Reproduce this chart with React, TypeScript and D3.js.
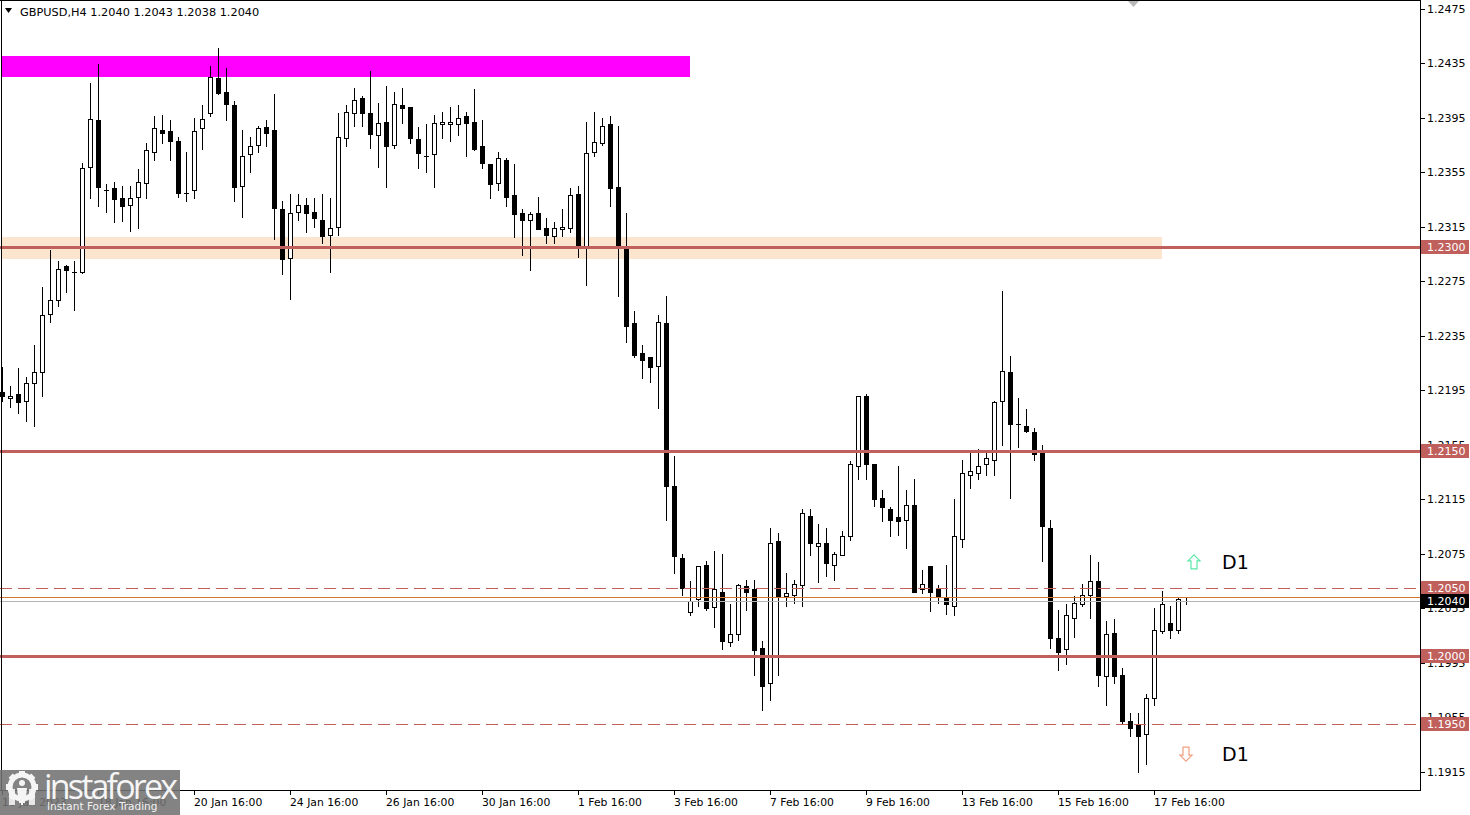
import React from "react";
import * as d3 from "d3";

// ---- Data (GBPUSD H4) ----
const opens = [
  1.2194, 1.2189, 1.2192, 1.2187, 1.2200, 1.2208, 1.2251, 1.2261, 1.2286, 1.2282,
  1.2282, 1.2359, 1.2393, 1.2342, 1.2343, 1.2336, 1.2331, 1.2337, 1.2347, 1.2370,
  1.2386, 1.2385, 1.2378, 1.2340, 1.2342, 1.2387, 1.2398, 1.2424, 1.2414, 1.2404,
  1.2345, 1.2368, 1.2375, 1.2388, 1.2386, 1.2328, 1.2292, 1.2326, 1.2331, 1.2326,
  1.2320, 1.2309, 1.2315, 1.2380, 1.2398, 1.2409, 1.2398, 1.2382, 1.2392, 1.2375,
  1.2404, 1.2403, 1.2379, 1.2367, 1.2368, 1.2390, 1.2390, 1.2390, 1.2396, 1.2392,
  1.2374, 1.2361, 1.2347, 1.2364, 1.2338, 1.2325, 1.2320, 1.2325, 1.2314, 1.2308,
  1.2313, 1.2314, 1.2339, 1.2301, 1.2370, 1.2376, 1.2390, 1.2344, 1.2299, 1.2244,
  1.2222, 1.2219, 1.2213, 1.2244, 1.2125, 1.2072, 1.2032, 1.2042, 1.2067, 1.2036,
  1.2047, 1.2010, 1.2016, 1.2051, 1.2049, 1.2006, 1.1980, 1.2084, 1.2044, 1.2045,
  1.2052, 1.2103, 1.2081, 1.2083, 1.2067, 1.2074, 1.2088, 1.2139, 1.2191, 1.2141,
  1.2116, 1.2108, 1.2102, 1.2100, 1.2111, 1.2049, 1.2066, 1.2049, 1.2043, 1.2037,
  1.2086, 1.2133, 1.2134, 1.2141, 1.2144, 1.2187, 1.2208, 1.2170, 1.2169, 1.2164,
  1.2149, 1.2094, 1.2013, 1.2005, 1.2028, 1.2038, 1.2045, 1.2055, 1.1985, 1.2017,
  1.1986, 1.1952, 1.1949, 1.1943, 1.1969, 1.2018, 1.2024, 1.2019, 1.2040,
];
const highs = [
  1.2212, 1.2198, 1.2211, 1.2205, 1.2228, 1.2271, 1.2298, 1.2290, 1.2287, 1.2290,
  1.2362, 1.2420, 1.2434, 1.2346, 1.2348, 1.2345, 1.2345, 1.2357, 1.2376, 1.2396,
  1.2397, 1.2393, 1.2381, 1.2370, 1.2395, 1.2404, 1.2433, 1.2446, 1.2431, 1.2407,
  1.2386, 1.2381, 1.2389, 1.2393, 1.2412, 1.2334, 1.2339, 1.2339, 1.2336, 1.2336,
  1.2339, 1.2336, 1.2398, 1.2404, 1.2417, 1.2411, 1.2429, 1.2406, 1.2418, 1.2414,
  1.2417, 1.2403, 1.2388, 1.2390, 1.2397, 1.2399, 1.2403, 1.2404, 1.2399, 1.2416,
  1.2393, 1.2361, 1.2370, 1.2365, 1.2361, 1.2328, 1.2326, 1.2337, 1.2321, 1.2318,
  1.2328, 1.2343, 1.2345, 1.2392, 1.2399, 1.2395, 1.2396, 1.2389, 1.2325, 1.2253,
  1.2228, 1.2219, 1.2250, 1.2264, 1.2147, 1.2075, 1.2055, 1.2066, 1.2070, 1.2077,
  1.2075, 1.2038, 1.2053, 1.2056, 1.2056, 1.2011, 1.2094, 1.2090, 1.2061, 1.2056,
  1.2108, 1.2108, 1.2097, 1.2094, 1.2076, 1.2092, 1.2143, 1.2191, 1.2192, 1.2141,
  1.2122, 1.2109, 1.2139, 1.2122, 1.2130, 1.2063, 1.2066, 1.2052, 1.2067, 1.2115,
  1.2144, 1.2149, 1.2152, 1.2149, 1.2187, 1.2268, 1.2220, 1.2189, 1.2181, 1.2167,
  1.2155, 1.2100, 1.2034, 1.2038, 1.2044, 1.2053, 1.2074, 1.2069, 1.2026, 1.2027,
  1.1991, 1.1958, 1.1958, 1.1972, 1.2035, 1.2048, 1.2037, 1.2043, 1.2043,
];
const lows = [
  1.2187, 1.2183, 1.2178, 1.2172, 1.2169, 1.2191, 1.2245, 1.2257, 1.2267, 1.2254,
  1.2281, 1.2336, 1.2330, 1.2326, 1.2318, 1.2319, 1.2312, 1.2314, 1.2336, 1.2364,
  1.2376, 1.2364, 1.2337, 1.2334, 1.2336, 1.2372, 1.2396, 1.2412, 1.2393, 1.2334,
  1.2322, 1.2355, 1.2370, 1.2374, 1.2306, 1.2280, 1.2262, 1.2320, 1.2311, 1.2315,
  1.2303, 1.2282, 1.2309, 1.2374, 1.2389, 1.2389, 1.2373, 1.2359, 1.2344, 1.2373,
  1.2391, 1.2376, 1.2358, 1.2355, 1.2344, 1.2380, 1.2378, 1.2382, 1.2367, 1.2371,
  1.2358, 1.2336, 1.2342, 1.2330, 1.2307, 1.2294, 1.2283, 1.2313, 1.2303, 1.2303,
  1.2308, 1.2311, 1.2293, 1.2272, 1.2367, 1.2375, 1.2330, 1.2264, 1.2230, 1.2219,
  1.2204, 1.2201, 1.2182, 1.2100, 1.2061, 1.2045, 1.2030, 1.2037, 1.2034, 1.2021,
  1.2005, 1.2007, 1.2012, 1.2034, 1.1986, 1.1960, 1.1968, 1.1986, 1.2037, 1.2039,
  1.2037, 1.2074, 1.2054, 1.2059, 1.2056, 1.2074, 1.2085, 1.2130, 1.2130, 1.2110,
  1.2099, 1.2088, 1.2089, 1.2079, 1.2047, 1.2046, 1.2033, 1.2039, 1.2031, 1.2030,
  1.2080, 1.2123, 1.2130, 1.2133, 1.2133, 1.2155, 1.2116, 1.2153, 1.2164, 1.2144,
  1.2070, 1.2006, 1.1990, 1.1994, 1.2014, 1.2037, 1.2028, 1.1978, 1.1964, 1.1980,
  1.1951, 1.1941, 1.1915, 1.1921, 1.1964, 1.2017, 1.2013, 1.2017, 1.2038,
];
const closes = [
  1.2191, 1.2191, 1.2186, 1.2200, 1.2208, 1.2250, 1.2261, 1.2284, 1.2283, 1.2282,
  1.2358, 1.2394, 1.2344, 1.2342, 1.2335, 1.2330, 1.2336, 1.2348, 1.2371, 1.2387,
  1.2384, 1.2378, 1.2340, 1.2340, 1.2385, 1.2394, 1.2425, 1.2413, 1.2405, 1.2344,
  1.2367, 1.2374, 1.2387, 1.2384, 1.2329, 1.2291, 1.2325, 1.2331, 1.2325, 1.2321,
  1.2308, 1.2314, 1.2381, 1.2399, 1.2408, 1.2398, 1.2383, 1.2391, 1.2374, 1.2405,
  1.2402, 1.2380, 1.2369, 1.2367, 1.2391, 1.2392, 1.2392, 1.2395, 1.2391, 1.2372,
  1.2362, 1.2346, 1.2365, 1.2337, 1.2324, 1.2320, 1.2324, 1.2313, 1.2309, 1.2314,
  1.2315, 1.2338, 1.2301, 1.2369, 1.2377, 1.2389, 1.2343, 1.2301, 1.2242, 1.2221,
  1.2217, 1.2212, 1.2245, 1.2125, 1.2073, 1.2050, 1.2040, 1.2066, 1.2035, 1.2049,
  1.2011, 1.2016, 1.2052, 1.2047, 1.2004, 1.1978, 1.2083, 1.2044, 1.2046, 1.2053,
  1.2105, 1.2083, 1.2083, 1.2068, 1.2075, 1.2088, 1.2141, 1.2191, 1.2141, 1.2115,
  1.2109, 1.2100, 1.2099, 1.2111, 1.2047, 1.2053, 1.2047, 1.2044, 1.2038, 1.2088,
  1.2134, 1.2136, 1.2139, 1.2145, 1.2186, 1.2209, 1.2170, 1.2170, 1.2165, 1.2148,
  1.2095, 1.2013, 1.2003, 1.2030, 1.2039, 1.2045, 1.2055, 1.1986, 1.2016, 1.1985,
  1.1952, 1.1947, 1.1941, 1.1969, 1.2019, 1.2038, 1.2019, 1.2042, 1.2040,
];

const dateLabels = [
  "16 Jan 2023", "18 Jan 16:00", "20 Jan 16:00", "24 Jan 16:00", "26 Jan 16:00",
  "30 Jan 16:00", "1 Feb 16:00", "3 Feb 16:00", "7 Feb 16:00", "9 Feb 16:00",
  "13 Feb 16:00", "15 Feb 16:00", "17 Feb 16:00",
];
const dateLabelIndex = [0, 12, 24, 36, 48, 60, 72, 84, 96, 108, 120, 132, 144];

const priceTicks = [
  1.2475, 1.2435, 1.2395, 1.2355, 1.2315, 1.2275, 1.2235, 1.2195, 1.2155,
  1.2115, 1.2075, 1.2035, 1.1995, 1.1955, 1.1915,
];

const solidLevels = [1.23, 1.215, 1.2];
const dashedLevels = [1.205, 1.195];
const bidPrice = 1.204;
const askPrice = 1.2043;
const headerText = "GBPUSD,H4  1.2040 1.2043 1.2038 1.2040";

const magentaZone = { low: 1.2425, high: 1.244, from: 0, to: 86 };
const peachZone = { low: 1.2291, high: 1.2307, from: 0, to: 145 };
const upSignal = { index: 149, price: 1.2069 };
const downSignal = { index: 148, price: 1.1928 };
const signalLabelIndex = 152.5;

const LEVEL = "#C0605C";
const FONT = "Tahoma, 'DejaVu Sans', Verdana, sans-serif";

export default function App() {
  const W = 1470;
  const H = 815;
  const plotRight = 1420;
  const plotBottom = 790;

  const x = d3.scaleLinear().domain([0, 148]).range([2, 1186]);
  const y = d3.scaleLinear().domain([1.1915, 1.2475]).range([771.8, 8.5]);
  const fmt = d3.format(".4f");

  const upArrow = (cx: number, cy: number) =>
    `M${cx},${cy - 7} L${cx + 6},${cy - 1} L${cx + 3},${cy - 1} L${cx + 3},${cy + 7} L${cx - 3},${cy + 7} L${cx - 3},${cy - 1} L${cx - 6},${cy - 1} Z`;
  const downArrow = (cx: number, cy: number) =>
    `M${cx},${cy + 7} L${cx + 6},${cy + 1} L${cx + 3},${cy + 1} L${cx + 3},${cy - 7} L${cx - 3},${cy - 7} L${cx - 3},${cy + 1} L${cx - 6},${cy + 1} Z`;

  const levelBox = (p: number, fill: string, key: string) => {
    const yy = Math.round(y(p));
    return (
      <g key={key}>
        <rect x={1421} y={yy - 7} width={48} height={14} fill={fill} />
        <text x={1427} y={yy + 4} fontSize={11} fill="#fff" fontFamily={FONT}>
          {fmt(p)}
        </text>
      </g>
    );
  };

  const gearTeeth = d3.range(8).map((k) => (k * 360) / 8);

  return (
    <svg
      width={W}
      height={H}
      style={{ position: "fixed", left: 0, top: 0, background: "#fff" }}
      shapeRendering="crispEdges"
    >
      <rect x={0} y={0} width={W} height={H} fill="#fff" />

      {/* zones */}
      <rect
        x={x(magentaZone.from)}
        y={y(magentaZone.high)}
        width={x(magentaZone.to) - x(magentaZone.from)}
        height={y(magentaZone.low) - y(magentaZone.high)}
        fill="#FF00FF"
      />
      <rect
        x={x(peachZone.from)}
        y={y(peachZone.high)}
        width={x(peachZone.to) - x(peachZone.from)}
        height={y(peachZone.low) - y(peachZone.high)}
        fill="#FCE5CE"
      />

      {/* candles */}
      {opens.map((o, i) => {
        const c = closes[i];
        const px = Math.round(x(i));
        const yh = Math.round(y(highs[i]));
        const yl = Math.round(y(lows[i]));
        const yo = Math.round(y(o));
        const yc = Math.round(y(c));
        const top = Math.min(yo, yc);
        const bot = Math.max(yo, yc);
        return (
          <g key={i}>
            <line x1={px + 0.5} x2={px + 0.5} y1={yh} y2={yl + 1} stroke="#000" strokeWidth={1} />
            {top === bot ? (
              <line x1={px - 2} x2={px + 3} y1={top + 0.5} y2={top + 0.5} stroke="#000" strokeWidth={1} />
            ) : (
              <rect
                x={px - 1.5}
                y={top + 0.5}
                width={4}
                height={bot - top}
                fill={c > o ? "#fff" : "#000"}
                stroke="#000"
                strokeWidth={1}
              />
            )}
          </g>
        );
      })}

      {/* level lines */}
      {solidLevels.map((p) => (
        <line key={"s" + p} x1={0} x2={plotRight} y1={Math.round(y(p)) + 0.5} y2={Math.round(y(p)) + 0.5} stroke={LEVEL} strokeWidth={3} />
      ))}
      {dashedLevels.map((p) => (
        <line key={"d" + p} x1={0} x2={plotRight} y1={Math.round(y(p)) + 0.5} y2={Math.round(y(p)) + 0.5} stroke={LEVEL} strokeWidth={1} strokeDasharray="12,6" />
      ))}
      <line x1={0} x2={plotRight} y1={Math.round(y(askPrice)) + 0.5} y2={Math.round(y(askPrice)) + 0.5} stroke="#D2772E" strokeWidth={1} />
      <line x1={0} x2={plotRight} y1={Math.round(y(bidPrice)) + 0.5} y2={Math.round(y(bidPrice)) + 0.5} stroke="#B4B4B4" strokeWidth={1} />

      {/* signals */}
      <path d={upArrow(x(upSignal.index), y(upSignal.price))} fill="none" stroke="#5BE6A8" strokeWidth={1.2} shapeRendering="auto" />
      <path d={downArrow(x(downSignal.index), y(downSignal.price))} fill="none" stroke="#F0A080" strokeWidth={1.2} shapeRendering="auto" />
      <text x={x(signalLabelIndex)} y={y(upSignal.price) + 7} fontSize={19} fontFamily={FONT} fill="#000">D1</text>
      <text x={x(signalLabelIndex)} y={y(downSignal.price) + 7} fontSize={19} fontFamily={FONT} fill="#000">D1</text>

      {/* frame */}
      <line x1={1.5} x2={1.5} y1={0} y2={plotBottom + 1} stroke="#000" />
      <line x1={0} x2={plotRight + 1} y1={0.5} y2={0.5} stroke="#000" />
      <line x1={plotRight + 0.5} x2={plotRight + 0.5} y1={0} y2={plotBottom + 1} stroke="#000" />
      <line x1={0} x2={plotRight + 1} y1={plotBottom + 0.5} y2={plotBottom + 0.5} stroke="#000" />

      {/* chart shift marker */}
      <path d="M1128,1 L1139,1 L1133.5,7 Z" fill="#B8B8B8" shapeRendering="auto" />

      {/* price axis */}
      {priceTicks.map((p) => {
        const yy = Math.round(y(p));
        return (
          <g key={"t" + p}>
            <line x1={plotRight + 1} x2={plotRight + 5} y1={yy + 0.5} y2={yy + 0.5} stroke="#000" />
            <text x={1427} y={yy + 4} fontSize={11} fontFamily={FONT} fill="#000">
              {fmt(p)}
            </text>
          </g>
        );
      })}
      {solidLevels.concat(dashedLevels).map((p) => levelBox(p, LEVEL, "b" + p))}
      {levelBox(bidPrice, "#000", "bid")}

      {/* time axis */}
      {dateLabelIndex.map((idx, k) => {
        const px = Math.round(x(idx));
        return (
          <g key={"x" + idx}>
            <line x1={px + 0.5} x2={px + 0.5} y1={plotBottom + 1} y2={plotBottom + 5} stroke="#000" />
            <text x={px} y={plotBottom + 16} fontSize={10.8} fontFamily={FONT} fill="#000">
              {dateLabels[k]}
            </text>
          </g>
        );
      })}

      {/* header */}
      <path d="M5,8 L12,8 L8.5,13 Z" fill="#000" shapeRendering="auto" />
      <text x={20} y={16} fontSize={11.3} fontFamily={FONT} fill="#000">
        {headerText}
      </text>

      {/* logo */}
      <g shapeRendering="auto">
        <rect x={0} y={770} width={180} height={45} fill="#727272" opacity={0.88} />
        <g transform="translate(22,787)" fill="#fff" opacity={0.92}>
          {gearTeeth.map((a) => (
            <rect key={a} x={-3} y={-16} width={6} height={6} transform={`rotate(${a})`} />
          ))}
          <circle r={12} fill="none" stroke="#fff" strokeWidth={5} />
          <circle cx={0} cy={-4} r={3} />
          <path d="M-5,1 L5,1 L4,10 L1,10 L1,18 L-1,18 L-1,10 L-4,10 Z" />
          <path d="M-13,2 L-7,2 L-7,18 L-13,18 Z" opacity={0.9} />
          <path d="M7,2 L13,2 L13,18 L7,18 Z" opacity={0.9} />
        </g>
        <text x={44} y={799} fontSize={34} fontFamily="'Open Sans', 'DejaVu Sans', sans-serif" fill="#fff" opacity={0.92} textLength={134}>
          instaforex
        </text>
        <text x={47} y={810} fontSize={10.5} fontFamily={FONT} fill="#fff" opacity={0.9}>
          Instant Forex Trading
        </text>
      </g>
    </svg>
  );
}
